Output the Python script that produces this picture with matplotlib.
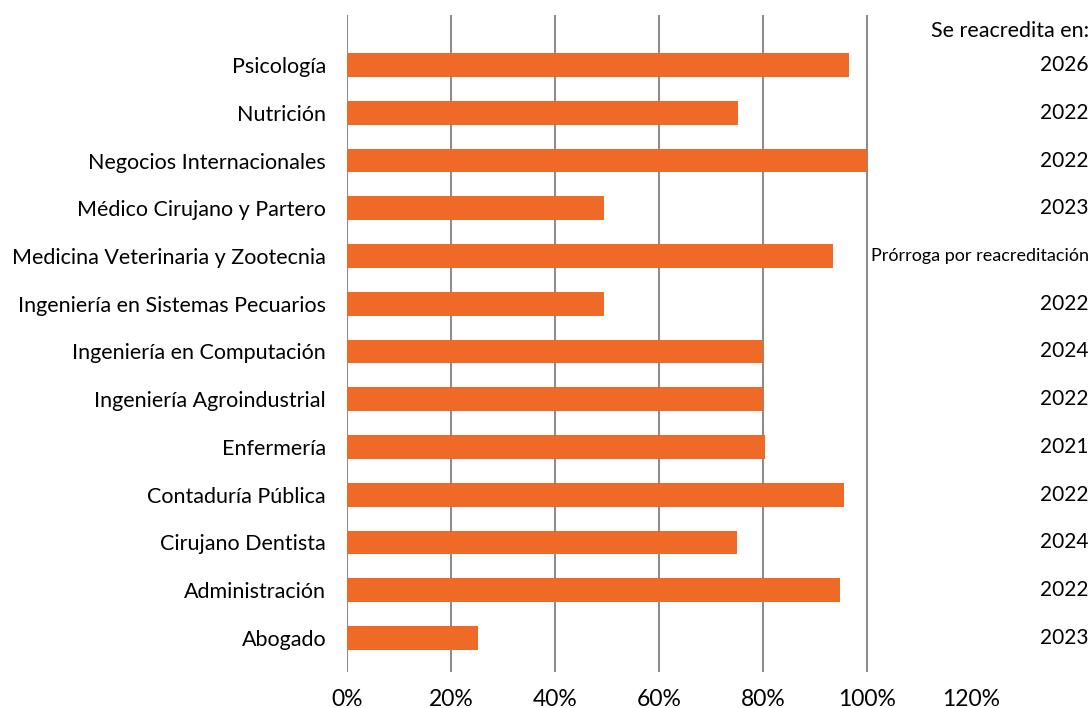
#!/usr/bin/env python3
import matplotlib
matplotlib.use('Agg')
import matplotlib.pyplot as plt
import matplotlib.transforms as mtransforms

# data (bottom to top)
programas = ['Abogado', 'Administración', 'Cirujano Dentista', 'Contaduría Pública',
             'Enfermería', 'Ingeniería Agroindustrial', 'Ingeniería en Computación',
             'Ingeniería en Sistemas Pecuarios', 'Medicina Veterinaria y Zootecnia',
             'Médico Cirujano y Partero', 'Negocios Internacionales', 'Nutrición', 'Psicología']
porcentaje = [0.252, 0.948, 0.750, 0.956, 0.804, 0.800, 0.800,
              0.494, 0.935, 0.494, 1.000, 0.752, 0.965]
reacredita = ['2023', '2022', '2024', '2022', '2021', '2022', '2024',
              '2022', 'Prórroga por reacreditación', '2023', '2022', '2022', '2026']

plt.rcParams['font.family'] = ['Lato', 'DejaVu Sans']

fig = plt.figure(figsize=(10.91, 7.08), dpi=100)
ax = fig.add_axes([0.318, 0.051, 0.572, 0.928])

y = range(len(programas))
ax.barh(y, porcentaje, height=0.5, color='#EF6A27', zorder=3)

ax.set_xlim(0, 1.2)
ax.set_ylim(-0.71, 13.05)
ax.set_xticks([0, 0.2, 0.4, 0.6, 0.8, 1.0, 1.2])
ax.set_xticklabels(['0%', '20%', '40%', '60%', '80%', '100%', '120%'], fontsize=16.5)
ax.set_yticks(list(y))
ax.set_yticklabels(programas, fontsize=15.5)
ax.tick_params(length=0)
ax.tick_params(axis='y', pad=15)
ax.tick_params(axis='x', pad=12)

ax.grid(axis='x', color='#8c8c8c', linewidth=1.5, zorder=0)
ax.get_xgridlines()[-1].set_visible(False)
for s in ax.spines.values():
    s.set_visible(False)

# right column
trans = mtransforms.blended_transform_factory(fig.transFigure, ax.transData)
for i, txt in enumerate(reacredita):
    if txt.startswith('Pr'):
        ax.text(0.998, i, txt, transform=trans, ha='right', va='center', fontsize=13)
    else:
        ax.text(0.998, i, txt, transform=trans, ha='right', va='center', fontsize=15)
ax.text(0.998, 12.72, 'Se reacredita en:', transform=trans, ha='right', va='center', fontsize=15.5)

plt.savefig('out.png', dpi=100)
